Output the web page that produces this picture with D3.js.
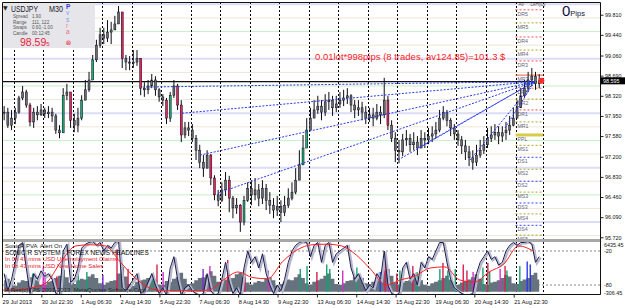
<!DOCTYPE html>
<html><head><meta charset="utf-8">
<script src="https://cdn.jsdelivr.net/npm/d3@7"></script>
<style>
html,body{margin:0;padding:0;background:#fff;}
svg{display:block;font-family:"Liberation Sans",Arial,sans-serif;}
</style></head><body>
<svg id="chart" width="625" height="308"></svg>
<script>
const closes = [
  98.02, 97.78, 97.91,
  98.02, 98.28, 98.39, 98.15, 97.84, 98.02, 97.97, 98.06,
  97.99, 98.02, 97.95, 97.69, 97.64, 98.33, 98.39, 97.87,
  97.78, 97.91, 98.24, 98.43, 98.61, 98.98, 99.25, 99.44,
  99.38, 99.49, 99.53, 99.64, 99.86, 99.01, 98.94, 98.92,
  98.94, 99.01, 98.46, 98.43, 98.50, 98.61, 98.43, 98.30,
  98.24, 97.91, 98.33, 98.50, 98.15, 97.60, 97.73, 97.69,
  97.54, 97.32, 97.10, 96.99, 97.23, 96.81, 96.50, 96.40,
  96.59, 96.77, 96.44, 96.26, 96.31, 96.00, 96.40, 96.62,
  96.50, 96.59, 96.44, 96.62, 96.40, 96.31, 96.22, 96.29,
  96.18, 96.31, 96.44, 96.55, 96.77, 97.05, 97.36, 97.69,
  97.91, 98.06, 98.13, 98.02, 98.21, 98.24, 98.10, 98.17,
  98.24, 98.28, 98.32, 98.15, 98.06, 98.10, 98.02, 97.91,
  97.97, 97.91, 98.02, 97.97, 98.24, 97.78, 97.54, 97.32,
  97.29, 97.51, 97.54, 97.42, 97.47, 97.36, 97.54, 97.51,
  97.58, 97.62, 97.69, 97.91, 98.02, 97.87, 97.73, 97.62,
  97.51, 97.40, 97.29, 97.18, 97.10, 97.23, 97.32, 97.42,
  97.54, 97.60, 97.65, 97.58, 97.64, 97.69, 97.78, 97.91,
  98.10, 98.32, 98.46, 98.61, 98.68, 98.54, 98.595
];
const highs = [
  98.13, 98.10, 98.06,
  98.10, 98.32, 98.50, 98.43, 98.19, 98.10, 98.13, 98.17,
  98.10, 98.13, 98.10, 97.99, 97.78, 98.46, 98.54, 98.39,
  97.99, 98.10, 98.33, 98.61, 98.76, 99.07, 99.35, 99.57,
  99.57, 99.71, 99.68, 99.79, 99.97, 99.53, 99.07, 99.05,
  99.16, 99.16, 98.87, 98.57, 98.61, 98.72, 98.68, 98.46,
  98.35, 98.28, 98.39, 98.61, 98.54, 98.24, 97.84, 97.84,
  97.80, 97.60, 97.42, 97.23, 97.32, 97.25, 96.86, 96.59,
  96.73, 96.92, 96.85, 96.48, 96.44, 96.33, 96.48, 96.73,
  96.77, 96.81, 96.70, 96.77, 96.70, 96.55, 96.44, 96.48,
  96.40, 96.48, 96.62, 96.73, 96.99, 97.32, 97.60, 97.91,
  98.10, 98.24, 98.32, 98.24, 98.35, 98.39, 98.32, 98.32,
  98.39, 98.43, 98.46, 98.35, 98.24, 98.24, 98.21, 98.13,
  98.10, 98.10, 98.17, 98.13, 98.65, 98.32, 97.87, 97.65,
  97.51, 97.62, 97.69, 97.62, 97.65, 97.58, 97.69, 97.65,
  97.73, 97.76, 97.84, 98.06, 98.13, 98.06, 97.91, 97.80,
  97.69, 97.58, 97.51, 97.40, 97.32, 97.42, 97.51, 97.58,
  97.73, 97.76, 97.80, 97.76, 97.76, 97.84, 97.95, 98.10,
  98.24, 98.46, 98.61, 98.76, 98.83, 98.76, 98.72
];
const lows = [
  97.87, 97.73, 97.69,
  97.80, 97.99, 98.24, 98.10, 97.76, 97.73, 97.87, 97.95,
  97.91, 97.91, 97.84, 97.62, 97.54, 97.76, 98.24, 97.73,
  97.65, 97.65, 97.87, 98.24, 98.39, 98.61, 98.94, 99.20,
  99.27, 99.31, 99.27, 99.53, 99.68, 98.83, 98.79, 98.79,
  98.83, 98.87, 98.33, 98.30, 98.35, 98.46, 98.32, 98.21,
  98.13, 97.80, 97.84, 98.28, 98.06, 97.47, 97.54, 97.58,
  97.47, 97.14, 96.99, 96.83, 96.99, 96.68, 96.40, 96.29,
  96.37, 96.48, 96.18, 96.07, 96.15, 95.82, 95.94, 96.37,
  96.31, 96.40, 96.29, 96.33, 96.22, 96.15, 96.07, 96.11,
  96.00, 96.11, 96.26, 96.40, 96.51, 96.77, 97.14, 97.40,
  97.76, 97.91, 97.99, 97.87, 97.95, 98.06, 97.95, 98.02,
  98.10, 98.13, 98.17, 98.02, 97.91, 97.95, 97.87, 97.80,
  97.84, 97.76, 97.87, 97.80, 97.91, 97.69, 97.47, 97.10,
  97.08, 97.21, 97.40, 97.29, 97.32, 97.23, 97.40, 97.36,
  97.43, 97.47, 97.54, 97.65, 97.87, 97.76, 97.58, 97.51,
  97.40, 97.25, 97.14, 97.03, 96.96, 97.03, 97.18, 97.25,
  97.36, 97.47, 97.51, 97.43, 97.47, 97.51, 97.60, 97.76,
  97.91, 98.10, 98.28, 98.39, 98.50, 98.43, 98.46
];
// volumen medio por barra M30 dentro de cada vela de 3h
const volumes = [
  1500, 1700, 1100,
  800, 1200, 1500, 1400, 1900, 2200, 1500, 900,
  900, 1300, 1400, 1800, 2100, 2900, 1900, 1200,
  1000, 1500, 1700, 1600, 2000, 2300, 1800, 1100,
  900, 1200, 1400, 1500, 2400, 3300, 2000, 1000,
  800, 1300, 1500, 1600, 1800, 2000, 1500, 900,
  900, 1400, 1300, 1700, 1900, 2500, 1700, 1000,
  1100, 1500, 1800, 1900, 2200, 2700, 2100, 1300,
  1200, 1600, 1500, 1800, 2300, 2500, 1900, 1200,
  900, 1200, 1400, 1300, 1700, 1900, 1500, 800,
  1000, 1300, 1600, 1500, 1900, 2300, 1800, 1100,
  900, 1300, 1500, 1700, 2100, 2400, 1700, 1000,
  900, 1100, 1400, 1500, 1900, 2200, 1800, 1100,
  1000, 1300, 1500, 1700, 2800, 3000, 2100, 1200,
  900, 1200, 1400, 1500, 1800, 2000, 1500, 900,
  800, 1100, 1300, 1500, 1800, 2100, 1600, 900,
  900, 1200, 1400, 1600, 1900, 2300, 1700, 1000,
  900, 1200, 1300, 1500, 1800, 2200, 2000, 1100,
  1000, 1400, 1600, 1800, 2200, 2500, 1600
];
// Williams %R (azul marino)
const wpr = [
  -60, -90, -70,
  -40, -10, -5, -50, -95, -60, -70, -55,
  -65, -60, -70, -95, -98, -20, -8, -75,
  -70, -50, -15, -8, -5, -3, -10, -5,
  -20, -10, -15, -5, -2, -85, -90, -80,
  -70, -60, -95, -90, -75, -60, -80, -95,
  -85, -98, -50, -30, -70, -98, -85, -80,
  -90, -95, -98, -95, -60, -90, -98, -95,
  -70, -40, -75, -95, -85, -98, -50, -20,
  -40, -30, -50, -25, -60, -80, -95, -80,
  -90, -70, -40, -20, -10, -5, -3, -5,
  -30, -10, -5, -40, -10, -5, -40, -25,
  -20, -15, -10, -50, -70, -60, -75, -90,
  -80, -85, -60, -70, -20, -80, -95, -98,
  -95, -50, -40, -70, -60, -80, -40, -50,
  -30, -35, -20, -5, -5, -40, -70, -85,
  -90, -95, -98, -97, -95, -60, -40, -30,
  -20, -35, -30, -45, -40, -20, -10, -5,
  -10, -5, -5, -3, -8, -40, -30
];
// línea roja (cada 24 barras M30)
const redLine = [-89, -89, -85, -76, -39, -11, -9, -11, -39, -67, -85, -90, -90, -90, -89, -71, -57, -67, -69,
  -39, -18, -9, -8, -11, -27, -53, -80, -71, -64, -50, -48, -71, -75, -57, -43, -11, -20];
// barras de volumen climax: [barra M30, volumen, tipo]
const climax = [
  [50, 2400, 'g'], [67, 3200, 'm'], [70, 2600, 'm'], [89, 2000, 'r'], [124, 2800, 'g'], [138, 2600, 'g'],
  [164, 2200, 'p'], [187, 5600, 'r'], [205, 3000, 'r'], [244, 2400, 'g'], [252, 3600, 'r'], [262, 2600, 'm'],
  [327, 3000, 'p'], [338, 3400, 'm'], [367, 4200, 'r'], [395, 3000, 'r'], [433, 2800, 'm'], [485, 3000, 'g'],
  [496, 3400, 'g'], [512, 2600, 'r'], [528, 3600, 'g'], [533, 3000, 'g'], [554, 2800, 'm'], [577, 3200, 'g'],
  [615, 2600, 'b'], [623, 4400, 'r'], [628, 3000, 'm'], [642, 2400, 'r'], [647, 2800, 'g'], [668, 3400, 'r'],
  [675, 2600, 'g'], [712, 3000, 'g'], [717, 3800, 'r'], [725, 2800, 'g'], [737, 3000, 'g'], [750, 3600, 'r'],
  [756, 2800, 'r'], [766, 2600, 'm'], [782, 3200, 'g'], [790, 3800, 'r'], [793, 2600, 'g'], [810, 3000, 'm'],
  [818, 3400, 'r'], [821, 2800, 'g'], [842, 3400, 'g'], [854, 4000, 'b'], [859, 3600, 'b']
];
// operaciones abiertas (barra, precio) -> precio actual
const tradeBars = [229, 293, 322, 351, 644, 676, 761, 818];
const tradePrices = [98.48, 98.00, 97.23, 96.53, 97.14, 97.36, 97.14, 97.73];
const tradeEnd = [866, 98.58];
const avgLine = 98.58;
const lastPrice = 98.595;
// pivotes diarios
const pivotNames = ['DR5', 'MR5', 'DR4', 'MR4', 'DR3', 'MR3', 'DR2', 'MR2', 'DR1', 'MR1', 'PPL',
  'MS1', 'DS1', 'MS2', 'DS2', 'MS3', 'DS3', 'MS4', 'DS4', 'MS5'];
const pivotPrices = [99.90, 99.66, 99.40, 99.16, 98.96, 98.70, 98.46, 98.26, 98.06, 97.84, 97.60,
  97.41, 97.19, 96.97, 96.75, 96.55, 96.35, 96.15, 95.94, 95.76];
// ejes
const roundLevels = [95.75, 96.00, 96.25, 96.50, 96.75, 97.00, 97.25, 97.50, 97.75, 98.00, 98.25, 98.50,
  98.75, 99.00, 99.25, 99.50, 99.75, 100.00];
const priceTicks = [99.81, 99.44, 99.06, 98.69, 98.32, 97.95, 97.58, 97.20, 96.83, 96.46, 96.09, 95.72];
const dayBreaks = [19, 67, 115, 163, 211, 259, 307, 355, 403, 451, 499, 547, 595, 643, 691, 739, 787, 835];
const timeBars = [0, 64, 128, 192, 256, 320, 384, 448, 512, 576, 640, 704, 768, 832];
const timeLabels = ['29 Jul 2013', '30 Jul 22:30', '1 Aug 06:30', '2 Aug 14:30', '5 Aug 22:30', '7 Aug 06:30',
  '8 Aug 14:30', '9 Aug 22:30', '13 Aug 06:30', '14 Aug 14:30', '15 Aug 22:30', '19 Aug 06:30',
  '20 Aug 14:30', '21 Aug 22:30'];

// === Escalas ===
const x = d3.scaleLinear().domain([0, 970]).range([2, 598.55]);
const y = d3.scaleLinear().domain([95.72, 99.81]).range([237.3, 14.7]);
const yW = d3.scaleLinear().domain([-20, -80]).range([251, 285]);
const yV = d3.scaleLinear().domain([-306.45, 6435.45]).range([294, 243]);
const barW = x(6) - x(0);

const svg = d3.select('#chart');
svg.append('rect').attr('width', 625).attr('height', 308).attr('fill', '#fff');
const defs = svg.append('defs');
defs.append('clipPath').attr('id', 'cMain').append('rect').attr('x', 2).attr('y', 2).attr('width', 598).attr('height', 237);
defs.append('clipPath').attr('id', 'cInd').append('rect').attr('x', 2).attr('y', 242).attr('width', 598).attr('height', 52);

const main = svg.append('g').attr('clip-path', 'url(#cMain)');
const ind = svg.append('g').attr('clip-path', 'url(#cInd)');

// líneas de niveles redondos
main.selectAll('line.lvl').data(roundLevels).join('line')
  .attr('x1', 2).attr('x2', 600)
  .attr('y1', d => y(d)).attr('y2', d => y(d))
  .attr('stroke', d => d % 1 === 0 ? '#dcdcf6' : (d % 0.5 === 0 ? '#c6efc6' : '#efe6d6'))
  .attr('stroke-width', d => d % 1 === 0 ? 2 : 1);

// separadores de día
[main, ind].forEach(g => g.selectAll('line.day').data(dayBreaks.concat([880])).join('line')
  .attr('x1', d => Math.round(x(d)) + 0.5).attr('x2', d => Math.round(x(d)) + 0.5)
  .attr('y1', 2).attr('y2', 294)
  .attr('stroke', '#000').attr('stroke-width', 1).attr('stroke-dasharray', '2,2'));

// pivotes
const pvX0 = x(835), pvX1 = x(880);
const pvColor = n => n === 'PPL' ? '#d6cc48' : n === 'MR3' ? '#e8603a' : n.startsWith('DR') ? '#ff4a4a' : n.startsWith('DS') ? '#3a46ff' : '#b2a42a';
main.selectAll('line.pv').data(pivotNames).join('line')
  .attr('x1', pvX0).attr('x2', pvX1)
  .attr('y1', (d, i) => y(pivotPrices[i])).attr('y2', (d, i) => y(pivotPrices[i]))
  .attr('stroke', pvColor)
  .attr('stroke-width', d => d === 'PPL' ? 3 : 1)
  .attr('stroke-dasharray', d => (d === 'PPL' || d === 'MR3') ? null : '2,2');
main.selectAll('text.pv').data(pivotNames).join('text')
  .attr('x', pvX0 + 2).attr('y', (d, i) => y(pivotPrices[i]) + 6)
  .attr('font-size', 5.2).attr('fill', '#666677').text(d => d);
main.append('text').attr('x', pvX0 + 3).attr('y', 6).attr('font-size', 4.5).attr('fill', '#555').text('Av');
main.append('text').attr('x', pvX0 + 15).attr('y', 6).attr('font-size', 4.5).attr('fill', '#555').text('LeHyLy');

// línea horizontal negra
main.append('line').attr('x1', 2).attr('x2', x(870))
  .attr('y1', y(avgLine)).attr('y2', y(avgLine)).attr('stroke', '#111').attr('stroke-width', 1.3);

// velas
const candles = closes.map((c, i) => {
  const o = i ? closes[i - 1] : c;
  return { i, o, c, h: Math.max(highs[i], o, c), l: Math.min(lows[i], o, c) };
});
const cx = d => x(6 * d.i + 3.5);
const cg = main.append('g');
cg.selectAll('line').data(candles).join('line')
  .attr('x1', cx).attr('x2', cx)
  .attr('y1', d => y(d.h)).attr('y2', d => y(d.l))
  .attr('stroke', '#0c0c14').attr('stroke-width', 1);
cg.selectAll('rect').data(candles).join('rect')
  .attr('x', d => cx(d) - barW * 0.27).attr('width', barW * 0.54)
  .attr('y', d => y(Math.max(d.o, d.c)))
  .attr('height', d => Math.max(1, Math.abs(y(d.o) - y(d.c))))
  .attr('fill', d => d.c - d.o > 0.3 ? '#1fa878' : d.c - d.o < -0.3 ? '#e0245e' : '#6a6a74')
  .attr('stroke', '#0c0c14').attr('stroke-width', 0.5);

// líneas de operaciones
main.selectAll('line.tr').data(tradeBars).join('line')
  .attr('x1', d => x(d)).attr('y1', (d, i) => y(tradePrices[i]))
  .attr('x2', x(tradeEnd[0])).attr('y2', y(tradeEnd[1]))
  .attr('stroke', '#2a3cf0').attr('stroke-width', 1).attr('stroke-dasharray', '2,1.5');

// precio actual
main.append('circle').attr('cx', x(877)).attr('cy', y(lastPrice)).attr('r', 3).attr('fill', '#ff2a2a');

// texto rojo
main.append('text').attr('x', 315).attr('y', 60).attr('font-size', 9.5).attr('fill', '#ff2222')
  .text('0.01lot*998pips (8 trades, av124.85)=101.3 $');

// 0Pips
main.append('text').attr('x', 562).attr('y', 16).attr('fill', '#101040')
  .call(t => { t.append('tspan').attr('font-size', 15).text('0'); t.append('tspan').attr('font-size', 7.5).text('Pips'); });

// panel info arriba-izquierda
const info = svg.append('g');
info.append('rect').attr('x', 2).attr('y', 2).attr('width', 93).attr('height', 46).attr('fill', '#e6e6ea');
info.append('text').attr('x', 3).attr('y', 10).attr('font-size', 6).attr('font-family', 'DejaVu Sans').attr('fill', '#222').text('▼');
info.append('text').attr('x', 11).attr('y', 12).attr('font-size', 9).attr('fill', '#1a1a2a')
  .attr('textLength', 27).attr('lengthAdjust', 'spacingAndGlyphs').text('USDJPY');
info.append('text').attr('x', 49).attr('y', 12).attr('font-size', 9).attr('fill', '#1a1a2a')
  .attr('textLength', 14).attr('lengthAdjust', 'spacingAndGlyphs').text('M30');
const rows = [['Spread', '1.90'], ['Range', '111, 122'], ['Swaps', '0.60,-1.00'], ['Candle', '00:12:45']];
rows.forEach((r, i) => {
  info.append('text').attr('x', 13).attr('y', 18 + i * 5.6).attr('font-size', 4.6).attr('fill', '#555').text(r[0]);
  info.append('text').attr('x', 32).attr('y', 18 + i * 5.6).attr('font-size', 4.6).attr('fill', '#555').text(r[1]);
});
info.append('text').attr('x', 20).attr('y', 46).attr('fill', '#e8203a')
  .call(t => { t.append('tspan').attr('font-size', 10.5).text('98.59'); t.append('tspan').attr('font-size', 6).text('5'); });
const icons = [['P', '#2a3ad8', 'bold'], ['v', '#8a9ae8', 'normal'], ['s', '#8a9ae8', 'normal'], ['r', '#f08aa0', 'normal'], ['a', '#ee6a86', 'normal']];
icons.forEach((c, i) => info.append('text').attr('x', 66).attr('y', 9 + i * 6.3).attr('font-size', 6.5)
  .attr('font-weight', c[2]).attr('fill', c[1]).text(c[0]));
info.append('text').attr('x', 65.5).attr('y', 44.5).attr('font-size', 7).attr('font-family', 'DejaVu Sans').attr('fill', '#ee3050').text('⊗');

// === panel indicador ===
ind.selectAll('line.lv').data([-20, -80]).join('line')
  .attr('x1', 2).attr('x2', 600).attr('y1', d => yW(d)).attr('y2', d => yW(d))
  .attr('stroke', '#888').attr('stroke-dasharray', '2,2');
ind.append('path').datum(volumes)
  .attr('d', d3.area().x((d, i) => x(6 * i + 3.5)).y0(yV(0)).y1(d => yV(d)).curve(d3.curveStep))
  .attr('fill', '#66737f');
const climaxColor = { g: '#18a070', r: '#d8204e', m: '#d030c8', b: '#2a3ae8', p: '#7a30c8' };
ind.selectAll('line.cl').data(climax).join('line')
  .attr('x1', d => x(d[0])).attr('x2', d => x(d[0]))
  .attr('y1', yV(0)).attr('y2', d => yV(d[1]))
  .attr('stroke', d => climaxColor[d[2]]).attr('stroke-width', 1.4);
ind.append('path').datum(wpr)
  .attr('d', d3.line().x((d, i) => x(6 * i + 3.5)).y(d => yW(d)))
  .attr('fill', 'none').attr('stroke', '#b8b8cc').attr('stroke-width', 2.2).attr('transform', 'translate(1.5,1)');
ind.append('path').datum(wpr)
  .attr('d', d3.line().x((d, i) => x(6 * i + 3.5)).y(d => yW(d)))
  .attr('fill', 'none').attr('stroke', '#1c1c50').attr('stroke-width', 1);
ind.append('path').datum(redLine)
  .attr('d', d3.line().x((d, i) => x(24 * i)).y(d => yW(d)).curve(d3.curveMonotoneX))
  .attr('fill', 'none').attr('stroke', '#ff2020').attr('stroke-width', 1);
const it = svg.append('g').attr('font-size', 6);
it.append('text').attr('x', 5).attr('y', 248).attr('fill', '#222').text('SonicR PVA');
it.append('text').attr('x', 40).attr('y', 248).attr('fill', '#222').text('Alert On');
it.append('text').attr('x', 5).attr('y', 254.5).attr('font-size', 6.5).attr('fill', '#111').text('SONIC R SYSTEM - FOREX NEWS HEADLINES');
it.append('text').attr('x', 5).attr('y', 261).attr('fill', '#e02030').text('In 0h 43 mins  USD  Unemployment Claims');
it.append('text').attr('x', 5).attr('y', 267.5).attr('fill', '#e02030').text('In 0h 43 mins  USD  New Home Sales');
it.append('text').attr('x', 5).attr('y', 292).attr('fill', '#222').text('HiRes(c)TPS 2001-2013, MetaQuotes Software Corp.');

// === bordes y ejes ===
svg.append('rect').attr('x', 2).attr('y', 239).attr('width', 598).attr('height', 3).attr('fill', '#a8a8a8');
svg.append('path').attr('d', 'M2.5,294.5V2.5H600.5V294.5H2.5').attr('fill', 'none').attr('stroke', '#111');

const styleAxis = g => {
  g.attr('font-family', '"Liberation Sans",Arial,sans-serif').attr('font-size', 5.4);
  g.select('.domain').remove();
  g.selectAll('line').attr('stroke', '#222');
  g.selectAll('text').attr('fill', '#111');
};
svg.append('g').attr('transform', 'translate(600.5,0)')
  .call(d3.axisRight(y).tickValues(priceTicks).tickFormat(d3.format('.3f')).tickSize(3).tickPadding(1.5))
  .call(styleAxis);
svg.append('g').attr('transform', 'translate(0,294.5)')
  .call(d3.axisBottom(x).tickValues(timeBars).tickFormat((d, i) => timeLabels[i]).tickSize(3).tickPadding(2))
  .call(styleAxis)
  .call(g => g.selectAll('text').attr('text-anchor', 'start').attr('font-size', 5.7));

// etiquetas del indicador
const indTicks = [[6435.45, 245], [-20, 251], [-80, 285], [-306.45, 293]];
svg.selectAll('text.it').data(indTicks).join('text')
  .attr('x', 604).attr('y', d => d[1] + 2).attr('font-size', 5.4).attr('fill', '#111').text(d => d[0]);

// etiqueta del precio actual
svg.append('rect').attr('x', 601).attr('y', y(lastPrice) - 3.5).attr('width', 24).attr('height', 7).attr('fill', '#000');
svg.append('text').attr('x', 603).attr('y', y(lastPrice) + 2).attr('font-size', 5.4).attr('fill', '#fff').text(lastPrice.toFixed(3));
</script>
</body></html>
